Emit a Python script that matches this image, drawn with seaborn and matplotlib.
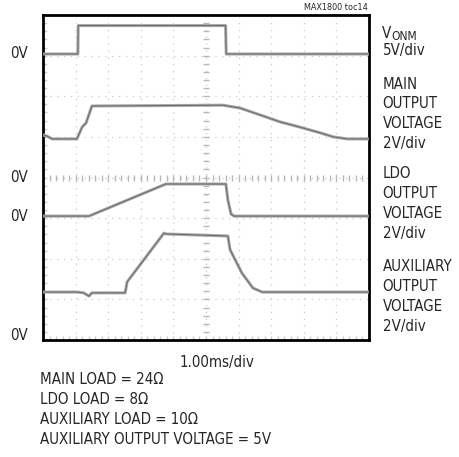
import numpy as np
import pandas as pd
import matplotlib
matplotlib.use("Agg")
import matplotlib.pyplot as plt
from matplotlib import font_manager
import seaborn as sns

# time in divisions (1.00ms/div), amplitude in screen divisions
vonm_t = [0, 1.07, 1.08, 5.60, 5.62, 10]
vonm_v = [7.04, 7.04, 7.74, 7.74, 7.04, 7.04]

main_t = [0, 0.12, 0.28, 1.04, 1.20, 1.32, 1.50, 5.52, 6.04, 6.66, 7.27, 7.88, 8.50, 8.90, 9.33, 10]
main_v = [5.05, 5.02, 4.95, 4.95, 5.24, 5.34, 5.76, 5.78, 5.71, 5.54, 5.37, 5.24, 5.10, 5.00, 4.95, 4.95]

ldo_t = [0, 1.41, 3.77, 5.61, 5.67, 5.77, 5.86, 10]
ldo_v = [3.05, 3.05, 3.84, 3.84, 3.45, 3.10, 3.05, 3.05]

aux_t = [0, 1.04, 1.25, 1.41, 1.50, 2.52, 2.58, 3.71, 3.77, 5.67, 5.74, 6.10, 6.44, 6.72, 10]
aux_v = [1.18, 1.18, 1.16, 1.08, 1.16, 1.16, 1.43, 2.63, 2.61, 2.56, 2.22, 1.65, 1.28, 1.18, 1.18]

zero_labels = ["0V", "0V", "0V", "0V"]
zero_levels = [7.04, 4.0, 3.05, 0.12]

right_labels = [
    (7.55, None),
    (7.12, "5V/div"),
    (6.3, "MAIN"), (5.81, "OUTPUT"), (5.33, "VOLTAGE"), (4.83, "2V/div"),
    (4.09, "LDO"), (3.6, "OUTPUT"), (3.11, "VOLTAGE"), (2.62, "2V/div"),
    (1.80, "AUXILIARY"), (1.31, "OUTPUT"), (0.82, "VOLTAGE"), (0.32, "2V/div"),
]
notes = ["MAIN LOAD = 24Ω", "LDO LOAD = 8Ω", "AUXILIARY LOAD = 10Ω",
         "AUXILIARY OUTPUT VOLTAGE = 5V"]

sns.set_style("white")

# pick a condensed sans font if available
fams = {(f.name, f.stretch) for f in font_manager.fontManager.ttflist}
names = {f.name for f in font_manager.fontManager.ttflist}
FS = 12
stretch = 'normal'
if 'Liberation Sans Narrow' in names:
    family = ['Liberation Sans Narrow', 'DejaVu Sans']
elif any(n == 'DejaVu Sans' and s in ('condensed', 'semi-condensed') for n, s in fams):
    family = ['DejaVu Sans', 'DejaVu Sans']
    stretch = 'condensed'
    FS = 10.8
else:
    cand = [n for n in names if 'Condensed' in n or 'Narrow' in n]
    if cand:
        family = [sorted(cand)[0], 'DejaVu Sans']
    else:
        family = ['Liberation Sans', 'DejaVu Sans']
        FS = 10.5
plt.rcParams['font.family'] = family
plt.rcParams['font.stretch'] = stretch

fig = plt.figure(figsize=(4.59, 4.57), dpi=100)
ax = fig.add_axes([43/459, (457-340)/457, 326/459, 325/457])

# grid
grid_c = '#c8c8c8'
for k in range(1, 10):
    ax.axvline(k, color=grid_c, lw=0.9, ls=(0, (1, 4.5)), zorder=1)
for k in range(1, 8):
    ax.axhline(k, color=grid_c, lw=0.9, ls=(0, (1, 4.5)), zorder=1)
mt = np.arange(0, 10.01, 0.2)
ax.plot(mt, [4] * len(mt), ls='none', marker='|', ms=4, color='#b8b8b8', zorder=1)
ax.plot(mt, [0.03] * len(mt), ls='none', marker='|', ms=4, color='#cccccc', zorder=1)
mv = np.arange(0, 8.01, 0.2)
ax.plot([5] * len(mv), mv, ls='none', marker='_', ms=4, color='#b8b8b8', zorder=1)
ax.plot([0.03] * len(mv), mv, ls='none', marker='_', ms=4, color='#cccccc', zorder=1)

frames = []
for name, t, v in [("vonm", vonm_t, vonm_v), ("main", main_t, main_v),
                   ("ldo", ldo_t, ldo_v), ("aux", aux_t, aux_v)]:
    frames.append(pd.DataFrame({"t": t, "v": v, "trace": name}))
df = pd.concat(frames, ignore_index=True)
for name in ["vonm", "main", "ldo", "aux"]:
    d = df[df.trace == name]
    sns.lineplot(data=d, x="t", y="v", sort=False, estimator=None, ax=ax,
                 color='#aaaaaa', lw=2.2, zorder=3)
    sns.lineplot(data=d, x="t", y="v", sort=False, estimator=None, ax=ax,
                 color='#707070', lw=0.8, zorder=4)

ax.set_xlim(0, 10)
ax.set_ylim(0, 8)
ax.set_xticks([])
ax.set_yticks([])
ax.set_xlabel("")
ax.set_ylabel("")
for s in ax.spines.values():
    s.set_visible(True)
    s.set_color('black')
    s.set_linewidth(2)

for lab, lev in zip(zero_labels, zero_levels):
    ax.text(-0.75, lev, lab, ha='center', va='center', fontsize=FS,
            transform=ax.transData, clip_on=False)

for y, lab in right_labels:
    if lab is None:
        ax.text(10.4, y, "V", ha='left', va='center', fontsize=FS)
        ax.text(10.68, y - 0.08, "ONM", ha='left', va='center', fontsize=FS * 0.8)
    else:
        ax.text(10.42, y, lab, ha='left', va='center', fontsize=FS)

fig.text(368/459, 1 - 7/457, "MAX1800 toc14", ha='right', va='center', fontsize=6.5)
fig.text(217/459, 1 - 363/457, "1.00ms/div", ha='center', va='center', fontsize=FS)
for i, n in enumerate(notes):
    fig.text(40/459, 1 - (380 + 20 * i)/457, n, ha='left', va='center', fontsize=FS)

fig.savefig("out.png", dpi=100)
